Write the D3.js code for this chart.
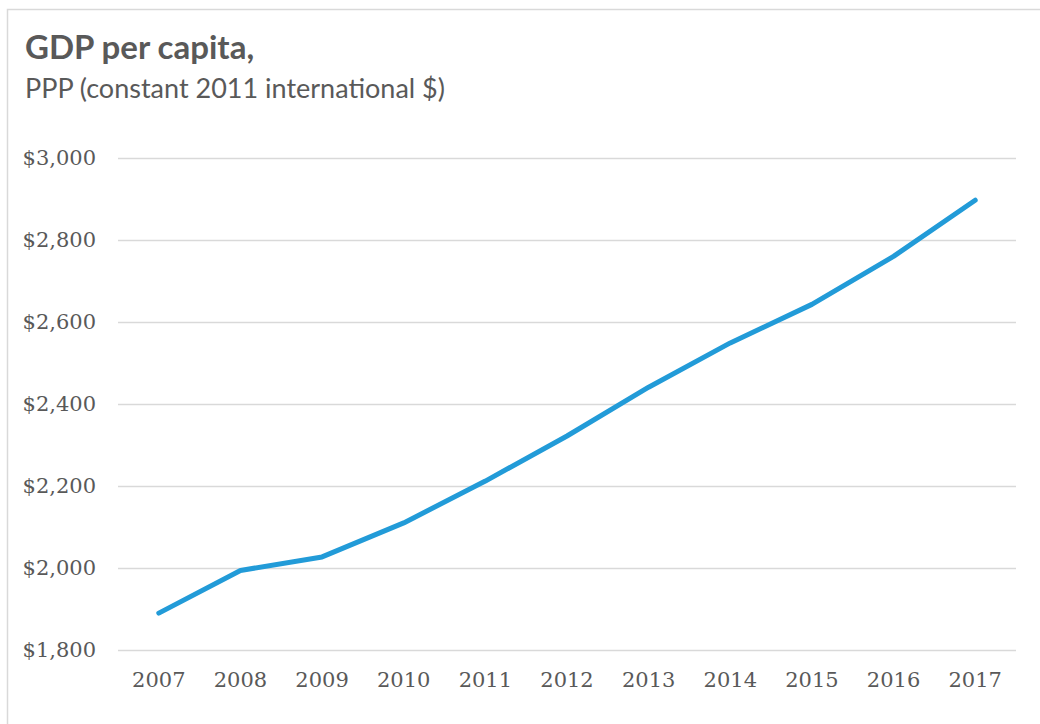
<!DOCTYPE html>
<html>
<head>
<meta charset="utf-8">
<script src="https://cdn.jsdelivr.net/npm/d3@7"></script>
<style>
  body { margin: 0; background: #fff; }
  svg { display: block; }
  .title { font-family: Lato, "Open Sans", sans-serif; font-weight: bold; fill: #595959; }
  .subtitle { font-family: Lato, "Open Sans", sans-serif; fill: #595959; }
  .axis text { font-family: "DejaVu Serif", "Liberation Serif", serif; fill: #595959; }
</style>
</head>
<body>
<script>
'use strict';
// 연도별 1인당 GDP (PPP, 2011 불변 국제달러)
const years = ['2007', '2008', '2009', '2010', '2011', '2012', '2013', '2014', '2015', '2016', '2017'];
const gdpValues = [1890, 1994, 2027, 2110, 2212, 2322, 2441, 2549, 2643, 2760, 2897];
const yTicks = [1800, 2000, 2200, 2400, 2600, 2800, 3000];

const width = 1040, height = 724;
const plot = { left: 118, right: 1016, top: 158, bottom: 650 };

const svg = d3.select(document.body).append('svg')
  .attr('width', width)
  .attr('height', height);

// 카드 테두리
svg.append('rect')
  .attr('x', 7.5).attr('y', 9.5)
  .attr('width', width + 20).attr('height', height + 20)
  .attr('fill', '#fff')
  .attr('stroke', '#d9d9d9')
  .attr('stroke-width', 1.5);

svg.append('text').attr('class', 'title')
  .attr('x', 25).attr('y', 59)
  .attr('font-size', 33)
  .text('GDP per capita,');
svg.append('text').attr('class', 'subtitle')
  .attr('x', 25).attr('y', 98)
  .attr('font-size', 27)
  .text('PPP (constant 2011 international $)');

const x = d3.scaleBand()
  .domain(years)
  .range([plot.left, plot.right]);
const y = d3.scaleLinear()
  .domain([1800, 3000])
  .range([plot.bottom, plot.top]);

// 눈금선 + y축 라벨
const yAxis = d3.axisLeft(y)
  .tickValues(yTicks)
  .tickSize(-(plot.right - plot.left))
  .tickPadding(22)
  .tickFormat(d => '$' + d3.format(',')(d));
const gy = svg.append('g')
  .attr('class', 'axis')
  .attr('transform', `translate(${plot.left},0)`)
  .call(yAxis);
gy.select('.domain').remove();
gy.selectAll('line').attr('stroke', '#d9d9d9').attr('stroke-width', 1.5);
gy.selectAll('text').attr('font-size', 21);

const xAxis = d3.axisBottom(x).tickSize(0).tickPadding(22);
const gx = svg.append('g')
  .attr('class', 'axis')
  .attr('transform', `translate(0,${plot.bottom})`)
  .call(xAxis);
gx.select('.domain').remove();
gx.selectAll('text').attr('font-size', 21);

const line = d3.line()
  .x((d, i) => x(years[i]) + x.bandwidth() / 2)
  .y(d => y(d));

svg.append('path')
  .datum(gdpValues)
  .attr('fill', 'none')
  .attr('stroke', '#229bd8')
  .attr('stroke-width', 5)
  .attr('stroke-linecap', 'round')
  .attr('stroke-linejoin', 'round')
  .attr('d', line);
</script>
</body>
</html>
